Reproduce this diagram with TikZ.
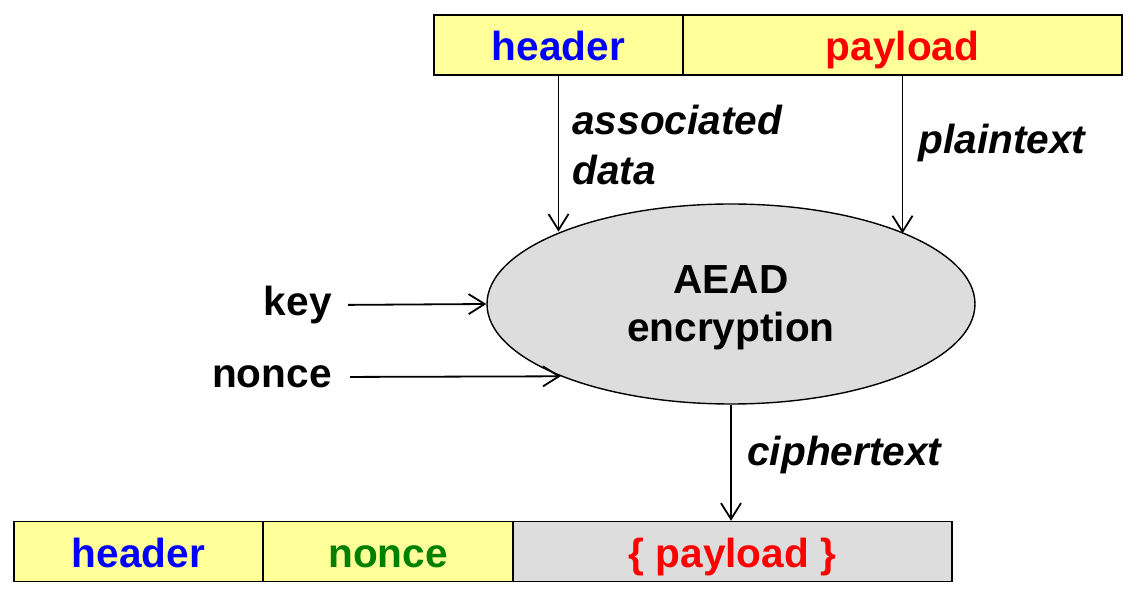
\documentclass[tikz,border=0pt]{standalone}
\usepackage{fontspec}
\setmainfont{Liberation Sans}
\usetikzlibrary{shapes.geometric,arrows.meta}

\definecolor{pktyellow}{RGB}{255,255,153}
\definecolor{aeadgray}{RGB}{221,221,221}
\definecolor{noncegreen}{RGB}{0,128,0}

\tikzset{
  field/.style={draw, line width=0.7pt, minimum height=30pt, inner sep=0pt,
    text height=16pt, text depth=0pt,
    font=\fontsize{20.3}{25}\selectfont\bfseries},
  lbl/.style={inner sep=0pt, font=\fontsize{20.3}{25}\selectfont\bfseries},
  flow/.style={-{Straight Barb[length=8pt,width=10pt]}, line width=0.9pt},
}

\begin{document}
\begin{tikzpicture}[x=0.5pt, y=-0.5pt]
        \useasboundingbox (0,0) rectangle (1142,598);

        % packet before encryption
        \node[field, fill=pktyellow, minimum width=124.5pt] (hdrin) at (558.5,45) {\textcolor{blue}{header}};
        \node[field, fill=pktyellow, minimum width=219.5pt] (payin) at (902.5,45) {\textcolor{red}{payload}};

        \node[draw, ellipse, fill=aeadgray, line width=0.7pt, minimum width=244pt, minimum height=100pt,
              inner sep=0pt, align=center, text depth=0pt,
              font=\fontsize{20.3}{24}\selectfont\bfseries] (aead) at (731,304) {AEAD\\encryption};

        \node[lbl, anchor=east] (key) at (332,305) {key};
        \node[lbl, anchor=east] (nonce) at (332,377) {nonce};

        \draw[flow] (hdrin.south) -- (hdrin.south |- aead.157);
        \draw[flow] (payin.south) -- (payin.south |- aead.22);
        \draw[flow, shorten <=8pt] (key.east) -- (aead.west);
        \draw[flow, shorten <=9pt] (nonce.east) -- (aead.203);

        \node[lbl, anchor=west, align=left, font=\fontsize{20.3}{25}\selectfont\bfseries\itshape] (adlbl) at (572,145) {associated\\data};
        \node[lbl, anchor=west, font=\fontsize{20.3}{25}\selectfont\bfseries\itshape] (ptlbl) at (918,143) {plaintext};
        \node[lbl, anchor=west, font=\fontsize{20.3}{25}\selectfont\bfseries\itshape] (ctlbl) at (747,455) {ciphertext};

        % packet after encryption
        \node[field, fill=pktyellow, minimum width=124.5pt] (hdrout) at (138.5,551.5) {\textcolor{blue}{header}};
        \node[field, fill=pktyellow, minimum width=125pt] (nonceout) at (388,551.5) {\textcolor{noncegreen}{nonce}};
        \node[field, fill=aeadgray, minimum width=219.5pt] (payout) at (732.5,551.5) {\textcolor{red}{\{ payload \}}};

        \draw[flow] (aead.south) -- (aead.south |- payout.north);

\end{tikzpicture}
\end{document}
